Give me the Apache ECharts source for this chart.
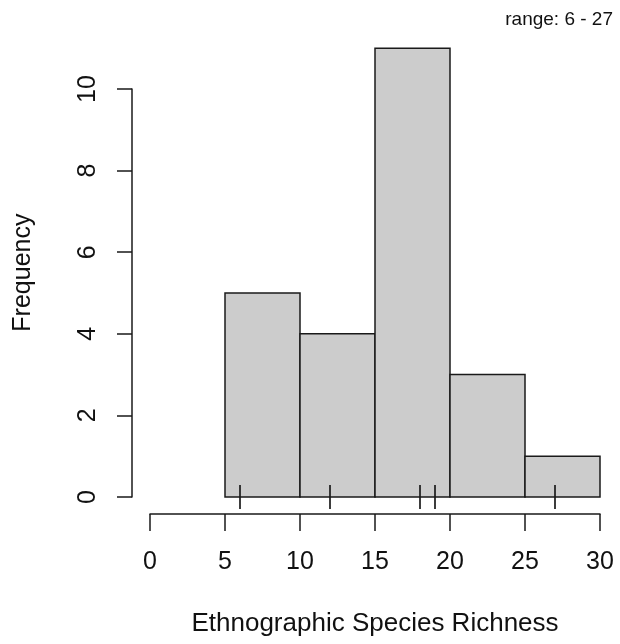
<!DOCTYPE html>
<html>
<head>
<meta charset="utf-8">
<script src="https://cdn.jsdelivr.net/npm/echarts@6/dist/echarts.min.js"></script>
<style>
  html, body { margin: 0; padding: 0; background: #fff; }
  #chart { width: 620px; height: 644px; }
</style>
</head>
<body>
<div id="chart"></div>
<script>
// histogram bins (edges) and counts
const breaks = [5, 10, 15, 20, 25, 30]
const counts = [5, 4, 11, 3, 1]
// rug marks under the bars
const rugValues = [6, 12, 18, 19, 27]
const xLabel = 'Ethnographic Species Richness'
const yLabel = 'Frequency'
const rangeText = 'range: 6 - 27'

const font = 'Liberation Sans, Arial, sans-serif'
const ink = '#1a1a1a'

const binData = counts.map((c, i) => [breaks[i], breaks[i + 1], c])

const chart = echarts.init(document.getElementById('chart'))

chart.setOption({
  animation: false,
  title: {
    text: rangeText,
    right: 2,
    top: 5,
    textStyle: { fontFamily: font, fontSize: 19, fontWeight: 'normal', color: '#111' }
  },
  grid: [
    // plotting grid, y runs 0..11
    { left: 150, right: 20, top: 48.2, bottom: 147 },
    // axis-only grid, y axis 0..10
    { left: 150, right: 20, top: 89, bottom: 147 }
  ],
  xAxis: [{
    gridIndex: 0,
    type: 'value',
    min: 0,
    max: 30,
    interval: 5,
    offset: 17,
    name: xLabel,
    nameLocation: 'middle',
    nameGap: 97,
    nameTextStyle: { fontFamily: font, fontSize: 26, color: '#111' },
    axisLine: { show: true, onZero: false, lineStyle: { color: ink, width: 1.5 } },
    axisTick: { show: true, length: 17, lineStyle: { color: ink, width: 1.5 } },
    axisLabel: { fontFamily: font, fontSize: 25, color: '#111', margin: 36 },
    splitLine: { show: false }
  }, {
    gridIndex: 1,
    type: 'value',
    min: 0,
    max: 30,
    show: false
  }],
  yAxis: [{
    gridIndex: 0,
    type: 'value',
    min: 0,
    max: 11,
    name: yLabel,
    nameLocation: 'middle',
    nameGap: 114,
    nameTextStyle: { fontFamily: font, fontSize: 25, color: '#111' },
    axisLine: { show: false, onZero: false },
    axisTick: { show: false },
    axisLabel: { show: false },
    splitLine: { show: false }
  }, {
    gridIndex: 1,
    type: 'value',
    min: 0,
    max: 10,
    interval: 2,
    offset: 18,
    axisLine: { show: true, onZero: false, lineStyle: { color: ink, width: 1.5 } },
    axisTick: { show: true, length: 15, lineStyle: { color: ink, width: 1.5 } },
    axisLabel: { fontFamily: font, fontSize: 25, color: '#111', rotate: 90, margin: 31 },
    splitLine: { show: false }
  }],
  series: [{
    type: 'custom',
    xAxisIndex: 0,
    yAxisIndex: 0,
    data: binData,
    clip: false,
    renderItem: function(params, api) {
      const p0 = api.coord([api.value(0), 0])
      const p1 = api.coord([api.value(1), api.value(2)])
      return {
        type: 'rect',
        shape: { x: p0[0], y: p1[1], width: p1[0] - p0[0], height: p0[1] - p1[1] },
        style: { fill: '#cccccc', stroke: ink, lineWidth: 1.5 }
      }
    }
  }, {
    type: 'custom',
    xAxisIndex: 0,
    yAxisIndex: 0,
    data: rugValues.map(v => [v]),
    clip: false,
    z: 5,
    renderItem: function(params, api) {
      const p = api.coord([api.value(0), 0])
      return {
        type: 'line',
        shape: { x1: p[0], y1: p[1] - 12, x2: p[0], y2: p[1] + 12 },
        style: { stroke: ink, lineWidth: 1.7 }
      }
    }
  }]
})
</script>
</body>
</html>
